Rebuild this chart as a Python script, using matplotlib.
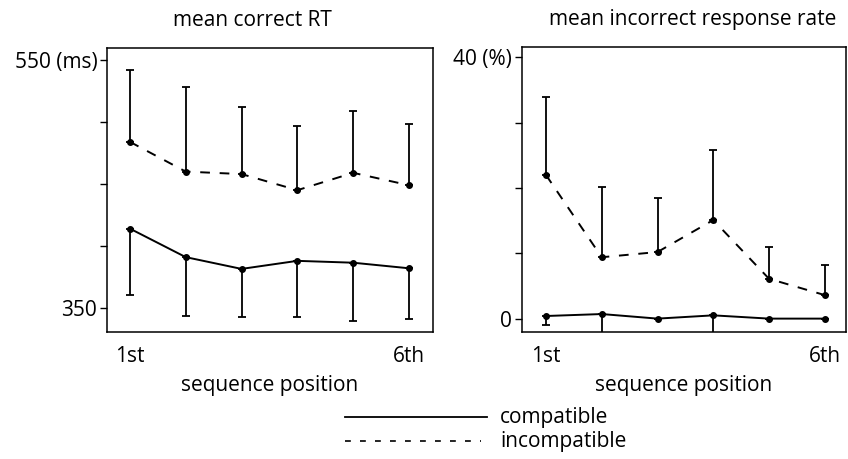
import numpy as np
import matplotlib
matplotlib.use("Agg")
import matplotlib.pyplot as plt
from matplotlib.lines import Line2D

plt.rcParams["font.family"] = ["Open Sans", "DejaVu Sans"]

posicoes = [1, 2, 3, 4, 5, 6]
rotulos_x = ["1st", "6th"]

# tempo de reação (ms)
rt_compat = [414, 391, 381.5, 388, 386.5, 382]
rt_compat_inf = [360.5, 343.5, 343, 342.5, 339.5, 341]
rt_incompat = [484, 460, 458, 445, 459, 449]
rt_incompat_sup = [542, 528, 512, 497, 509, 498]

# taxa de erro (%)
erro_compat = [0.4, 0.7, 0.0, 0.5, 0.0, 0.0]
erro_compat_inf = [-1.0, -2.5, 0.0, -2.5, 0.0, 0.0]
erro_incompat = [22.0, 9.4, 10.2, 15.1, 6.1, 3.6]
erro_incompat_sup = [33.9, 20.2, 18.5, 25.9, 10.9, 8.2]

W, H = 848, 459
FS = 15
fig = plt.figure(figsize=(W / 100, H / 100), dpi=100)


def eixo_px(x0, y0, x1, y1):
    return fig.add_axes([x0 / W, 1 - y1 / H, (x1 - x0) / W, (y1 - y0) / H])


def desenhar(ax, comp, comp_lim, inc, inc_lim):
    comp = np.array(comp)
    inc = np.array(inc)
    # barras de erro: só para baixo (compatível) e só para cima (incompatível)
    ax.errorbar(posicoes, comp, yerr=[comp - np.array(comp_lim), np.zeros(6)],
                fmt="none", ecolor="black", elinewidth=1.3, capsize=3, capthick=1.3)
    ax.errorbar(posicoes, inc, yerr=[np.zeros(6), np.array(inc_lim) - inc],
                fmt="none", ecolor="black", elinewidth=1.3, capsize=3, capthick=1.3)
    ax.plot(posicoes, comp, "-", color="black", lw=1.4, marker="o", ms=4)
    ax.plot(posicoes, inc, color="black", lw=1.4, marker="o", ms=4,
            linestyle=(0, (5, 5)))
    ax.set_xticks([1, 6])
    ax.set_xticklabels(rotulos_x, fontsize=FS)
    ax.tick_params(axis="x", length=0, pad=10)
    ax.tick_params(axis="y", direction="out", length=5, width=1, labelsize=FS, pad=2)
    ax.set_xlabel("sequence position", fontsize=FS, labelpad=6)
    for s in ax.spines.values():
        s.set_linewidth(1.1)


ax1 = eixo_px(107, 48, 433, 332)
desenhar(ax1, rt_compat, rt_compat_inf, rt_incompat, rt_incompat_sup)
ax1.set_xlim(0.59, 6.43)
ax1.set_ylim(330.6, 559.7)
ax1.set_yticks([350, 400, 450, 500, 550])
ax1.set_yticklabels(["350", "", "", "", "550 (ms)"])

ax2 = eixo_px(522, 47, 846, 332)
desenhar(ax2, erro_compat, erro_compat_inf, erro_incompat, erro_incompat_sup)
ax2.set_xlim(0.57, 6.38)
ax2.set_ylim(-2.05, 41.6)
ax2.set_yticks([0, 10, 20, 30, 40])
ax2.set_yticklabels(["0", "", "", "", "40 (%)"])

fig.text(252 / W, 1 - 20 / H, "mean correct RT", ha="center", va="center", fontsize=FS)
fig.text(693 / W, 1 - 20 / H, "mean incorrect response rate", ha="center", va="center",
         fontsize=FS)

# legenda desenhada na figura
fig.lines.append(Line2D([345 / W, 487 / W], [1 - 417 / H, 1 - 417 / H],
                        transform=fig.transFigure, color="black", lw=1.3))
fig.lines.append(Line2D([345 / W, 481 / W], [1 - 441 / H, 1 - 441 / H],
                        transform=fig.transFigure, color="black", lw=1.2,
                        linestyle=(0, (3.5, 5.5))))
fig.text(500 / W, 1 - 417 / H, "compatible", ha="left", va="center", fontsize=FS)
fig.text(500 / W, 1 - 441 / H, "incompatible", ha="left", va="center", fontsize=FS)

fig.savefig("out.png", dpi=100)
